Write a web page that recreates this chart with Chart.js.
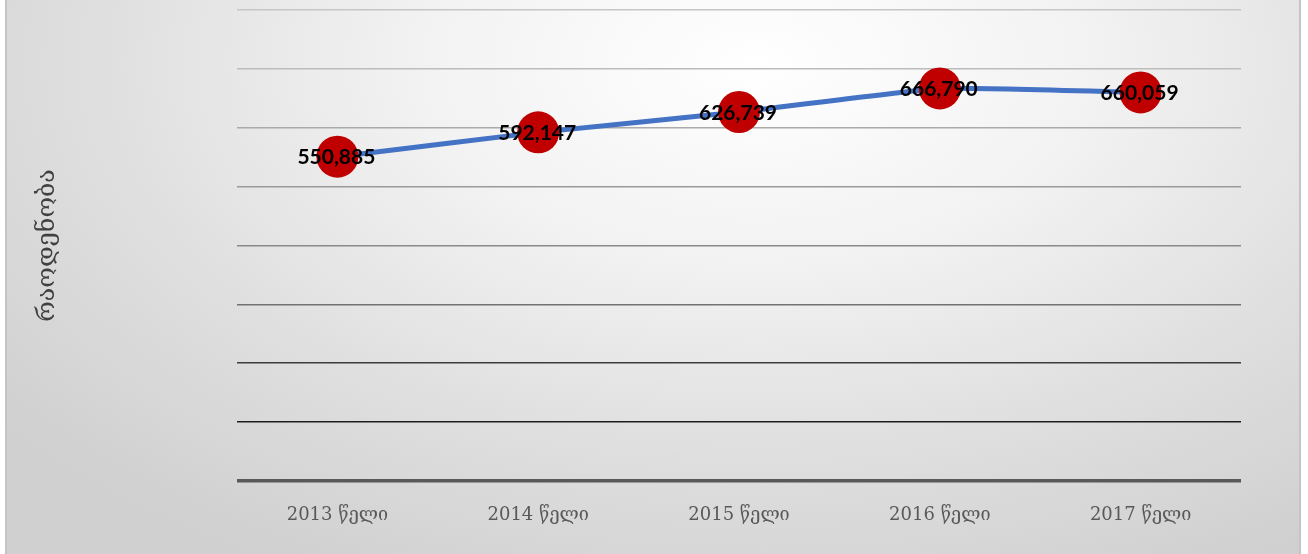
<!DOCTYPE html>
<html>
<head>
<meta charset="utf-8">
<script src="https://cdn.jsdelivr.net/npm/chart.js@4"></script>
<style>
  html, body { margin: 0; padding: 0; width: 1308px; height: 554px; overflow: hidden; background: #fff; }
  #frame {
    position: absolute; left: 5px; top: -10px; width: 1292px; height: 600px;
    border: 2px solid #c4c4c4;
    background: radial-gradient(ellipse 75% 95% at 58% 12%, #ffffff 0%, #f2f2f2 35%, #dedede 70%, #d0d0d0 100%);
  }
  #wrap { position: absolute; left: 0; top: 0; width: 1308px; height: 554px; }
</style>
</head>
<body>
<div id="frame"></div>
<div id="wrap"><canvas id="chart" width="1308" height="554"></canvas></div>
<script>
// chart data
const years = ['2013 წელი', '2014 წელი', '2015 წელი', '2016 წელი', '2017 წელი'];
const counts = [550885, 592147, 626739, 666790, 660059];
const yTitle = 'რაოდენობა';

// gridline colours get darker towards the bottom
const gridColors = {
  800000: '#c6c6c6', 700000: '#bcbcbc', 600000: '#aaaaaa', 500000: '#9a9a9a',
  400000: '#8a8a8a', 300000: '#727272', 200000: '#3c3c3c', 100000: '#1e1e1e', 0: '#595959'
};

const valueLabels = {
  id: 'valueLabels',
  afterDatasetsDraw(chart) {
    const ctx = chart.ctx;
    const meta = chart.getDatasetMeta(0);
    ctx.save();
    ctx.font = 'bold 21px Lato, "Liberation Sans", sans-serif';
    ctx.fillStyle = '#000';
    ctx.textAlign = 'center';
    ctx.textBaseline = 'middle';
    meta.data.forEach((pt, i) => {
      ctx.fillText(counts[i].toLocaleString('en-US'), pt.x - 1, pt.y + 1);
    });
    ctx.restore();
  }
};

new Chart(document.getElementById('chart'), {
  type: 'line',
  data: {
    labels: years,
    datasets: [{
      data: counts,
      borderColor: '#4472c4',
      borderWidth: 5,
      tension: 0.12,
      pointRadius: 21,
      pointHoverRadius: 21,
      pointBackgroundColor: '#c00000',
      pointBorderColor: '#c00000',
      pointBorderWidth: 0,
      fill: false
    }]
  },
  options: {
    responsive: false,
    animation: false,
    layout: { autoPadding: false, padding: { top: 10, right: 67, left: 0, bottom: 0 } },
    plugins: { legend: { display: false }, tooltip: { enabled: false } },
    scales: {
      x: {
        offset: true,
        grid: { display: false, drawTicks: false },
        border: { display: false },
        ticks: {
          padding: 24,
          color: '#595959',
          font: { family: '"DejaVu Serif", "Liberation Serif", serif', size: 18 }
        },
        afterFit: s => { s.height = 73; }
      },
      y: {
        min: 0,
        max: 800000,
        ticks: { display: false, stepSize: 100000 },
        border: { display: false },
        grid: {
          drawTicks: false,
          color: c => gridColors[c.tick.value] || '#999',
          lineWidth: c => c.tick.value === 0 ? 3.5 : 1.6
        },
        title: {
          display: true,
          text: yTitle,
          color: '#404040',
          padding: { top: 32 },
          font: { family: '"DejaVu Serif", "DejaVu Sans", serif', size: 25 }
        },
        afterFit: s => { s.width = 237; }
      }
    }
  },
  plugins: [valueLabels]
});
</script>
</body>
</html>
